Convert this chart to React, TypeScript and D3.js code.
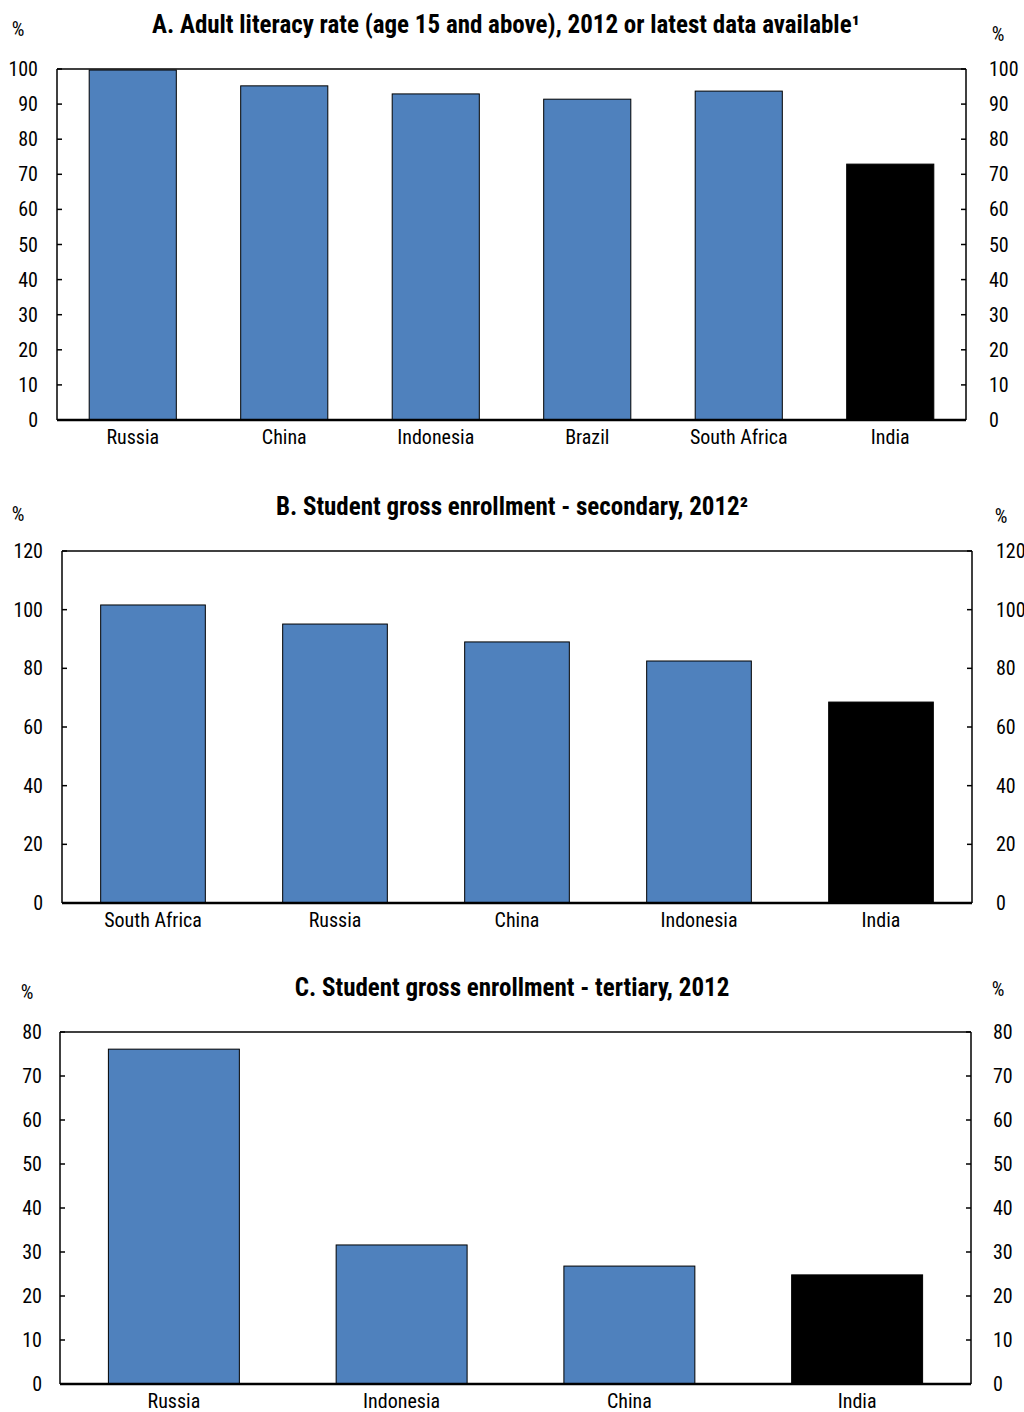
import React from "react";
import * as d3 from "d3";

const catsA = ["Russia", "China", "Indonesia", "Brazil", "South Africa", "India"];
const valsA = [99.7, 95.2, 92.9, 91.4, 93.7, 72.9];
const ticksA = [0, 10, 20, 30, 40, 50, 60, 70, 80, 90, 100];

const catsB = ["South Africa", "Russia", "China", "Indonesia", "India"];
const valsB = [101.6, 95.1, 89.0, 82.5, 68.5];
const ticksB = [0, 20, 40, 60, 80, 100, 120];

const catsC = ["Russia", "Indonesia", "China", "India"];
const valsC = [76.1, 31.6, 26.8, 24.8];
const ticksC = [0, 10, 20, 30, 40, 50, 60, 70, 80];

const titleA = "A. Adult literacy rate (age 15 and above), 2012 or latest data available¹";
const titleB = "B. Student gross enrollment - secondary, 2012²";
const titleC = "C. Student gross enrollment - tertiary, 2012";

const FONT = "'Liberation Sans Narrow', 'Arial Narrow', 'Roboto Condensed', sans-serif";
const BLUE = "#4F81BD";

type PanelProps = {
  title: string;
  cats: string[];
  vals: number[];
  ticks: number[];
  x0: number;
  x1: number;
  yTop: number;
  yBot: number;
  titleY: number;
  titleX: number;
  pctL: [number, number];
  pctR: [number, number];
  labL: number;
  labR: number;
  highlight: string;
};

function Panel(p: PanelProps) {
  const x = d3.scaleBand<string>().domain(p.cats).range([p.x0, p.x1]).paddingInner(0.425).paddingOuter(0.2125);
  const maxT = p.ticks[p.ticks.length - 1];
  const y = d3.scaleLinear().domain([0, maxT]).range([p.yBot, p.yTop]);
  return (
    <g>
      <text x={p.titleX} y={p.titleY} textAnchor="middle" fontFamily={FONT} fontWeight="bold" fontSize={25} fill="#000">{p.title}</text>
      <text x={p.pctL[0]} y={p.pctL[1]} textAnchor="middle" fontFamily={FONT} fontSize={20}>%</text>
      <text x={p.pctR[0]} y={p.pctR[1]} textAnchor="middle" fontFamily={FONT} fontSize={20}>%</text>
      {p.cats.map((c, i) => (
        <rect key={c} x={x(c)} y={y(p.vals[i])} width={x.bandwidth()} height={y(0) - y(p.vals[i])}
          fill={c === p.highlight ? "#000" : BLUE} stroke="#000" strokeWidth={1} />
      ))}
      <line x1={p.x0} x2={p.x1} y1={p.yTop} y2={p.yTop} stroke="#000" strokeWidth={1.5} />
      <line x1={p.x0} x2={p.x0} y1={p.yTop} y2={p.yBot} stroke="#000" strokeWidth={1.5} />
      <line x1={p.x1} x2={p.x1} y1={p.yTop} y2={p.yBot} stroke="#000" strokeWidth={1.5} />
      <line x1={p.x0} x2={p.x1} y1={p.yBot} y2={p.yBot} stroke="#000" strokeWidth={2.5} />
      {p.ticks.map((t) => (
        <g key={t}>
          <line x1={p.x0} x2={p.x0 + 5} y1={y(t)} y2={y(t)} stroke="#000" strokeWidth={1.5} />
          <line x1={p.x1 - 5} x2={p.x1} y1={y(t)} y2={y(t)} stroke="#000" strokeWidth={1.5} />
          <text x={p.labL} y={y(t)} dy="0.35em" textAnchor="end" fontFamily={FONT} fontSize={20}>{t}</text>
          <text x={p.labR} y={y(t)} dy="0.35em" textAnchor="start" fontFamily={FONT} fontSize={20}>{t}</text>
        </g>
      ))}
      {p.cats.map((c) => (
        <text key={c} x={(x(c) as number) + x.bandwidth() / 2} y={p.yBot + 17} dy="0.35em" textAnchor="middle" fontFamily={FONT} fontSize={20}>{c}</text>
      ))}
    </g>
  );
}

export default function App() {
  return (
    <svg width={1024} height={1412} style={{ position: "absolute", left: 0, top: 0, background: "#fff" }}>
      <rect width={1024} height={1412} fill="#fff" />
      <Panel title={titleA} cats={catsA} vals={valsA} ticks={ticksA} x0={57} x1={966} yTop={69} yBot={420}
        titleY={33} titleX={506} pctL={[18, 36]} pctR={[998, 41]} labL={38} labR={989} highlight="India" />
      <Panel title={titleB} cats={catsB} vals={valsB} ticks={ticksB} x0={62} x1={972} yTop={551} yBot={903}
        titleY={515} titleX={512} pctL={[18, 521]} pctR={[1001, 523]} labL={43} labR={996} highlight="India" />
      <Panel title={titleC} cats={catsC} vals={valsC} ticks={ticksC} x0={60} x1={971} yTop={1032} yBot={1384}
        titleY={996} titleX={512} pctL={[27, 999]} pctR={[998, 996]} labL={42} labR={993} highlight="India" />
    </svg>
  );
}
